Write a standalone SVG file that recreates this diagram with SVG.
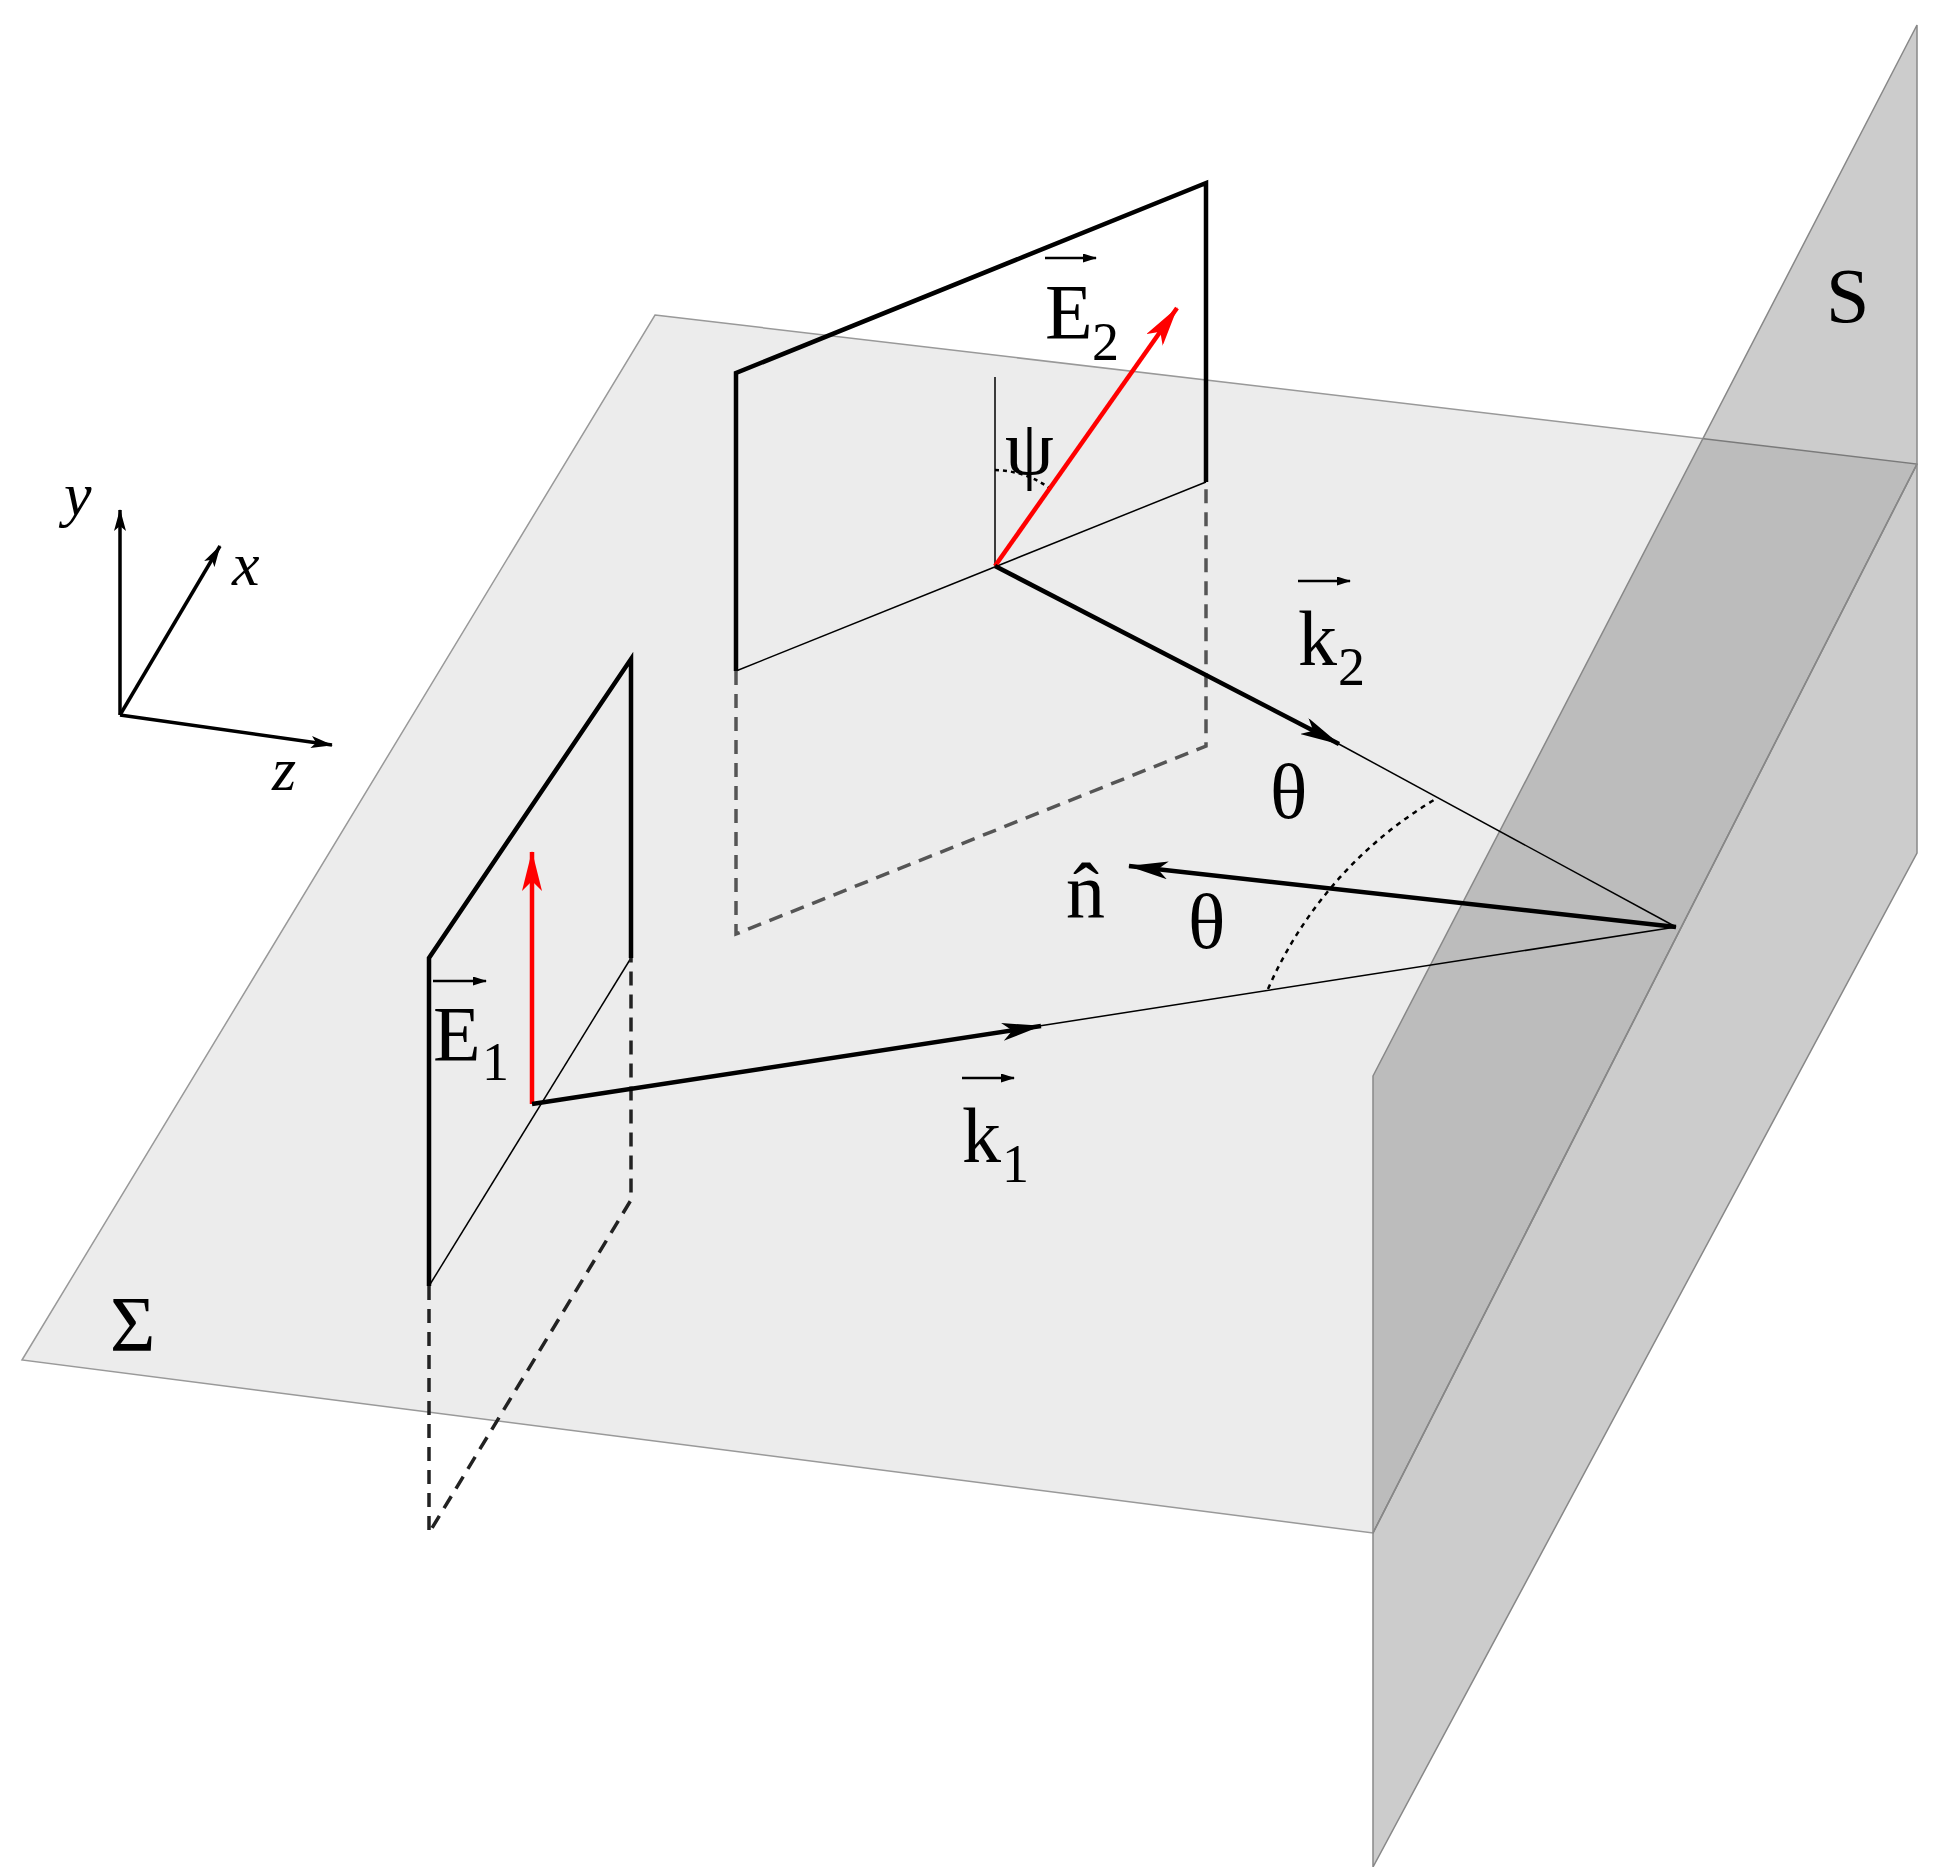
<svg xmlns="http://www.w3.org/2000/svg" width="1939" height="1867" viewBox="0 0 1939 1867">
<defs>
<marker id="ahb" viewBox="0 0 40 18" refX="39" refY="9" markerWidth="40" markerHeight="18" markerUnits="userSpaceOnUse" orient="auto"><path d="M0,0 L40,9 L0,18 L10,9 z" fill="#000"/></marker>
<marker id="ahr" viewBox="0 0 40 20" refX="39" refY="10" markerWidth="40" markerHeight="20" markerUnits="userSpaceOnUse" orient="auto"><path d="M0,0 L40,10 L0,20 L10,10 z" fill="#f00"/></marker>
<marker id="ax" viewBox="0 0 22 12" refX="21" refY="6" markerWidth="22" markerHeight="12" markerUnits="userSpaceOnUse" orient="auto"><path d="M0,0 L22,6 L0,12 L5,6 z" fill="#000"/></marker>
<marker id="vs" viewBox="0 0 14 9" refX="13" refY="4.5" markerWidth="14" markerHeight="9" markerUnits="userSpaceOnUse" orient="auto"><path d="M0,0 L14,4.5 L0,9 z" fill="#000"/></marker>
</defs>
<style>
text{font-family:"Liberation Serif",serif;fill:#000}
.L{font-size:78px}
.s{font-size:54px}
.it{font-style:italic;font-size:62px}
.thick{stroke:#000;stroke-width:4.5;fill:none}
.thin{stroke:#000;stroke-width:1.5;fill:none}
.dash{stroke:#555;stroke-width:3.5;fill:none;stroke-dasharray:14 9}
.va{stroke:#000;stroke-width:2.5;marker-end:url(#vs)}
.axl{stroke:#000;stroke-width:3.5;marker-end:url(#ax)}
</style>
<rect width="1939" height="1867" fill="#fff"/>
<g id="sigma"><polygon points="655,315 1917,464 1373,1533 22,1360" fill="#ececec" stroke="#999" stroke-width="1.5"/></g>
<g id="S"><polygon points="1373,1076 1917,25 1917,853 1373,1867" fill="#000" fill-opacity="0.2" stroke="#888" stroke-width="1.5"/>
<line x1="1917" y1="464" x2="1373" y2="1533" stroke="#888" stroke-width="1.5"/></g>
<g id="axes">
<line class="axl" x1="120" y1="715" x2="120" y2="510"/>
<line class="axl" x1="120" y1="715" x2="220" y2="546"/>
<line class="axl" x1="120" y1="715" x2="332" y2="745"/>
<text class="it" x="64" y="515">y</text><text class="it" x="232" y="585">x</text><text class="it" x="272" y="790">z</text>
</g>
<g id="plane2">
<polyline class="thick" points="736,671 736,373 1206,183 1206,482"/>
<line class="thin" x1="736" y1="671" x2="1206" y2="482"/>
<polyline class="dash" points="736,671 736,934 1206,746 1206,482"/>
<line class="thin" x1="995" y1="566" x2="995" y2="377"/>
<path d="M995,470 A96,96 0 0 1 1052,490" stroke="#000" stroke-width="2.5" fill="none" stroke-dasharray="4 4"/>
<line x1="995" y1="566" x2="1177" y2="308" stroke="#f00" stroke-width="4.5" marker-end="url(#ahr)"/>
<text class="L" x="1045" y="338">E</text><text class="s" x="1092" y="360">2</text>
<line class="va" x1="1045" y1="258" x2="1096" y2="258"/>
<text class="L" x="1005" y="474">ψ</text>
</g>
<g id="plane1">
<polyline class="thick" points="429,1286 429,958 631,659 631,958"/>
<line class="thin" x1="429" y1="1286" x2="631" y2="958"/>
<polyline class="dash" points="429,1286 429,1533 631,1200 631,958" style="stroke:#222"/>
<line x1="532" y1="1104" x2="532" y2="852" stroke="#f00" stroke-width="4.5" marker-end="url(#ahr)"/>
<text class="L" x="433" y="1060">E</text><text class="s" x="482" y="1080">1</text>
<line class="va" x1="433" y1="981" x2="486" y2="981"/>
</g>
<g id="connectors">
<line class="thick" x1="532" y1="1104" x2="1041" y2="1026" marker-end="url(#ahb)"/>
<line class="thin" x1="1039" y1="1026" x2="1676" y2="927"/>
<line class="thick" x1="995" y1="566" x2="1339" y2="744" marker-end="url(#ahb)"/>
<line class="thin" x1="1337" y1="743" x2="1676" y2="927"/>
<line class="thick" x1="1676" y1="927" x2="1129" y2="866" marker-end="url(#ahb)"/>
<path d="M1268,989 A413,413 0 0 1 1434,800" stroke="#000" stroke-width="2.5" fill="none" stroke-dasharray="5 5"/>
</g>
<g id="labels">
<text class="L" x="1270" y="818">θ</text>
<text class="L" x="1188" y="948">θ</text>
<text class="L" x="1066" y="918">n̂</text>
<text class="L" x="962" y="1162">k</text><text class="s" x="1002" y="1182">1</text>
<line class="va" x1="962" y1="1078" x2="1014" y2="1078"/>
<text class="L" x="1298" y="665">k</text><text class="s" x="1338" y="685">2</text>
<line class="va" x1="1298" y1="581" x2="1350" y2="581"/>
<text class="L" x="1826" y="322">S</text>
<text class="L" x="110" y="1350">Σ</text>
</g>
</svg>
